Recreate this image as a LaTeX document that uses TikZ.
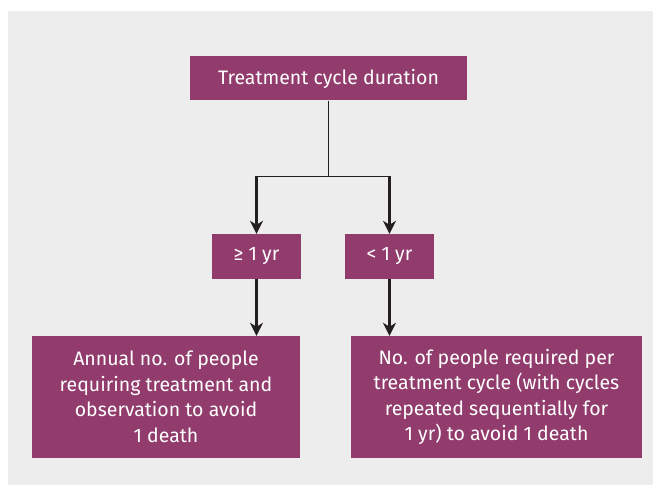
\documentclass[tikz,border=0pt]{standalone}
\usepackage{fontspec}
\setmainfont{Fira Sans}
\usetikzlibrary{arrows.meta}
\definecolor{boxpurple}{HTML}{913C6C}
\definecolor{bggray}{HTML}{EDEDED}
\definecolor{linedark}{HTML}{231F20}
\tikzset{
  pbox/.style={fill=boxpurple, text=white, inner sep=0pt, align=center,
    font=\fontsize{19.5}{25.5}\selectfont},
  thinline/.style={draw=linedark, line width=1.2pt},
  thickarrow/.style={draw=linedark, line width=2.2pt,
    -{Stealth[length=13pt,width=13pt,inset=4pt]}},
}
\begin{document}
\begin{tikzpicture}[x=1pt,y=1pt]
\useasboundingbox (0,0) rectangle (653,485);
\fill[bggray] (8,0) rectangle (653,474);
\node[pbox, minimum width=277pt, minimum height=44pt] (top) at (328.5,406.5) {Treatment cycle duration};
\node[pbox, minimum width=89pt, minimum height=45pt] (ge) at (256.5,228.5) {≥ 1 yr};
\node[pbox, minimum width=89pt, minimum height=45pt] (lt) at (389.5,228.5) {< 1 yr};
\node[pbox, minimum width=268pt, minimum height=121.5pt] (lb) at (166,88.25) {Annual no. of people\\requiring treatment and\\observation to avoid\\1 death};
\node[pbox, minimum width=291pt, minimum height=121.5pt] (rb) at (496.5,88.25) {No. of people required per\\treatment cycle (with cycles\\repeated sequentially for\\1 yr) to avoid 1 death};
\coordinate (j) at (328.5,308.7);
\draw[thinline] (top.south) -- (j);
\draw[thinline] (ge.north |- j) -- (lt.north |- j);
\draw[thickarrow] (ge.north |- j) -- (ge.north);
\draw[thickarrow] (lt.north |- j) -- (lt.north);
\draw[thickarrow] (ge.south) -- (ge.south |- lb.north);
\draw[thickarrow] (lt.south) -- (lt.south |- rb.north);
\end{tikzpicture}
\end{document}
